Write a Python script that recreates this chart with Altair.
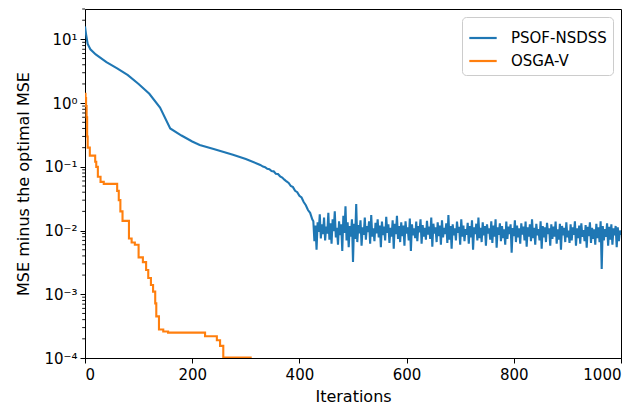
import altair as alt
import pandas as pd

# ---- data ----
series_names = ["PSOF-NSDSS", "OSGA-V"]
series_colors = ["#1f77b4", "#ff7f0e"]

blue_iter_smooth = [0, 2, 5, 10, 20, 40, 60, 80, 100, 120, 140, 159, 180, 200, 214, 240, 276, 300, 327]
blue_val_smooth = [16, 12, 8.5, 7.0, 5.8, 4.4, 3.5, 2.75, 2.0, 1.4, 0.85, 0.40, 0.31, 0.25, 0.22, 0.19, 0.155, 0.133, 0.107]

blue_iter_mid = [332, 336, 340, 344, 348, 352, 356, 360, 364, 368, 372, 376, 380, 384, 388, 392, 396, 400, 404, 408, 412, 416, 420, 424]
blue_val_mid = [0.101, 0.099, 0.093, 0.092, 0.086, 0.085, 0.078, 0.077, 0.071, 0.068, 0.063, 0.059,
                0.056, 0.050, 0.048, 0.042, 0.040, 0.035, 0.033, 0.028, 0.025, 0.021, 0.019, 0.015]

blue_noise_start, blue_noise_stop, blue_noise_step = 426, 1000, 2
blue_val_noise = [
    0.0140, 0.0068, 0.0120, 0.0050, 0.0135, 0.0095, 0.0180, 0.0075, 0.0125, 0.0088, 0.0160, 0.0070,
    0.0115, 0.0090, 0.0190, 0.0072, 0.0130, 0.0062, 0.0150, 0.0098, 0.0200, 0.0078, 0.0110, 0.0060,
    0.0140, 0.0085, 0.0125, 0.0048, 0.0170, 0.0092, 0.0240, 0.0070, 0.0135, 0.0055, 0.0118, 0.0080,
    0.0150, 0.0032, 0.0128, 0.0074, 0.0260, 0.0066, 0.0122, 0.0090, 0.0145, 0.0058, 0.0112, 0.0086,
    0.0160, 0.0072, 0.0118, 0.0095, 0.0140, 0.0062, 0.0175, 0.0080, 0.0108, 0.0068, 0.0132, 0.0090,
    0.0150, 0.0078, 0.0120, 0.0055, 0.0138, 0.0085, 0.0115, 0.0070, 0.0165, 0.0092, 0.0125, 0.0064,
    0.0110, 0.0080, 0.0145, 0.0052, 0.0128, 0.0088, 0.0170, 0.0074, 0.0118, 0.0066, 0.0135, 0.0082,
    0.0120, 0.0058, 0.0140, 0.0090, 0.0112, 0.0070, 0.0155, 0.0048, 0.0125, 0.0084, 0.0108, 0.0076,
    0.0138, 0.0068, 0.0118, 0.0094, 0.0150, 0.0062, 0.0122, 0.0080, 0.0110, 0.0072, 0.0142, 0.0086,
    0.0115, 0.0074, 0.0160, 0.0056, 0.0128, 0.0090, 0.0112, 0.0066, 0.0135, 0.0082, 0.0120, 0.0060,
    0.0145, 0.0078, 0.0110, 0.0088, 0.0130, 0.0064, 0.0175, 0.0072, 0.0118, 0.0052, 0.0125, 0.0084,
    0.0108, 0.0070, 0.0138, 0.0092, 0.0115, 0.0060, 0.0150, 0.0080, 0.0120, 0.0068, 0.0105, 0.0086,
    0.0132, 0.0062, 0.0118, 0.0078, 0.0145, 0.0050, 0.0112, 0.0088, 0.0128, 0.0070, 0.0160, 0.0076,
    0.0110, 0.0066, 0.0135, 0.0084, 0.0118, 0.0058, 0.0125, 0.0090, 0.0108, 0.0072, 0.0140, 0.0064,
    0.0120, 0.0080, 0.0150, 0.0054, 0.0112, 0.0086, 0.0130, 0.0068, 0.0118, 0.0076, 0.0105, 0.0060,
    0.0138, 0.0074, 0.0115, 0.0088, 0.0125, 0.0045, 0.0110, 0.0082, 0.0145, 0.0066, 0.0120, 0.0078,
    0.0108, 0.0062, 0.0130, 0.0086, 0.0115, 0.0070, 0.0138, 0.0056, 0.0112, 0.0080, 0.0125, 0.0068,
    0.0150, 0.0076, 0.0110, 0.0060, 0.0128, 0.0084, 0.0105, 0.0070, 0.0140, 0.0052, 0.0118, 0.0078,
    0.0112, 0.0066, 0.0132, 0.0088, 0.0108, 0.0058, 0.0125, 0.0074, 0.0115, 0.0080, 0.0138, 0.0062,
    0.0105, 0.0072, 0.0128, 0.0050, 0.0118, 0.0084, 0.0110, 0.0066, 0.0135, 0.0078, 0.0100, 0.0064,
    0.0125, 0.0070, 0.0112, 0.0086, 0.0140, 0.0058, 0.0108, 0.0076, 0.0120, 0.0062, 0.0130, 0.0080,
    0.0102, 0.0068, 0.0122, 0.0054, 0.0115, 0.0082, 0.0135, 0.0064, 0.0110, 0.0074, 0.0105, 0.0060,
    0.0128, 0.0076, 0.0112, 0.0066, 0.0140, 0.0025, 0.0118, 0.0070, 0.0105, 0.0080, 0.0130, 0.0058,
    0.0115, 0.0072, 0.0125, 0.0060, 0.0108, 0.0084, 0.0118, 0.0055, 0.0112, 0.0068, 0.0100, 0.0085,
]

orange_iter = [0, 1, 2, 3, 4, 5, 9, 19, 21, 24, 29, 35, 60, 63, 66, 70, 82, 87, 93, 100, 108, 114,
               118, 123, 127, 131, 133, 138, 146, 155, 224, 246, 252, 258, 311]
orange_val = [1.4, 1.2, 0.9, 0.6, 0.3, 0.2, 0.15, 0.12, 0.1, 0.07, 0.058, 0.054, 0.042, 0.03, 0.02,
              0.0142, 0.0075, 0.0065, 0.006, 0.0038, 0.0032, 0.0024, 0.0018, 0.0014, 0.0011, 0.00072,
              0.00045, 0.00028, 0.00026, 0.00025, 0.00022, 0.00019, 0.000155, 0.000102, 0.000102]

x_ticks = [0, 200, 400, 600, 800, 1000]
y_major = [1e-4, 1e-3, 1e-2, 1e-1, 1e0, 1e1]
y_minor = [k * d for d in [1e-4, 1e-3, 1e-2, 1e-1, 1e0] for k in range(2, 10)] + [20, 30]
y_domain = [1e-4, 30]

# ---- tables ----
noise_iters = list(range(blue_noise_start, blue_noise_stop + 1, blue_noise_step))
blue_df = pd.DataFrame({
    "iter": blue_iter_smooth + blue_iter_mid + noise_iters,
    "value": blue_val_smooth + blue_val_mid + blue_val_noise,
    "series": series_names[0],
})
orange_df = pd.DataFrame({"iter": orange_iter, "value": orange_val, "series": series_names[1]})
minor_df = pd.DataFrame({"value": y_minor})

FONT = "DejaVu Sans"
FS = 15
TFS = 16

sup = "['⁰','¹','²','³','⁴']"
label_expr = ("'10' + (round(log(datum.value)/LN10) < 0 ? '⁻' : '') + "
              + sup + "[abs(round(log(datum.value)/LN10))]")

x_enc = alt.X("iter:Q", scale=alt.Scale(domain=[0, 1000], nice=False, zero=False),
              axis=alt.Axis(values=x_ticks, format="d", title="Iterations", grid=False,
                            tickSize=5, labelPadding=4, titlePadding=6))
y_scale = alt.Scale(type="log", domain=y_domain, nice=False)
y_enc = alt.Y("value:Q", scale=y_scale,
              axis=alt.Axis(values=y_major, labelExpr=label_expr, title="MSE minus the optimal MSE",
                            grid=False, tickSize=5, labelPadding=3, titlePadding=12))
color_enc = alt.Color("series:N", scale=alt.Scale(domain=series_names, range=series_colors),
                      sort=series_names,
                      legend=alt.Legend(title=None, orient="top-right", offset=8, symbolType="stroke",
                                        symbolSize=750, symbolStrokeWidth=2.2, labelFontSize=FS,
                                        labelFont=FONT, labelColor="black", padding=6,
                                        fillColor="white", strokeColor="#cccccc", cornerRadius=4,
                                        labelOffset=13, rowPadding=0))

blue = alt.Chart(blue_df).mark_line(strokeWidth=2.1, clip=True).encode(
    x=x_enc, y=y_enc, color=color_enc, order="iter:Q")
orange = alt.Chart(orange_df).mark_line(strokeWidth=2.1, interpolate="step-after", clip=True).encode(
    x=x_enc, y=y_enc, color=color_enc, order="iter:Q")
minor = alt.Chart(minor_df).mark_rule(color="black", strokeWidth=0.9).encode(
    y=y_enc, x=alt.value(-2.8), x2=alt.value(0))

chart = alt.layer(blue, orange, minor).properties(
    width=536, height=349,
    autosize=alt.AutoSizeParams(type="none"),
    padding={"left": 77, "top": 1, "right": 10, "bottom": 48},
).configure_view(stroke="black", strokeWidth=1).configure_axis(
    labelFont=FONT, titleFont=FONT, labelFontSize=FS, titleFontSize=TFS,
    labelColor="black", titleColor="black", titleFontWeight="normal",
    domainColor="black", tickColor="black", domainWidth=1, tickWidth=1,
)

chart.save("out.html", embed_options={"renderer": "svg", "actions": False})
